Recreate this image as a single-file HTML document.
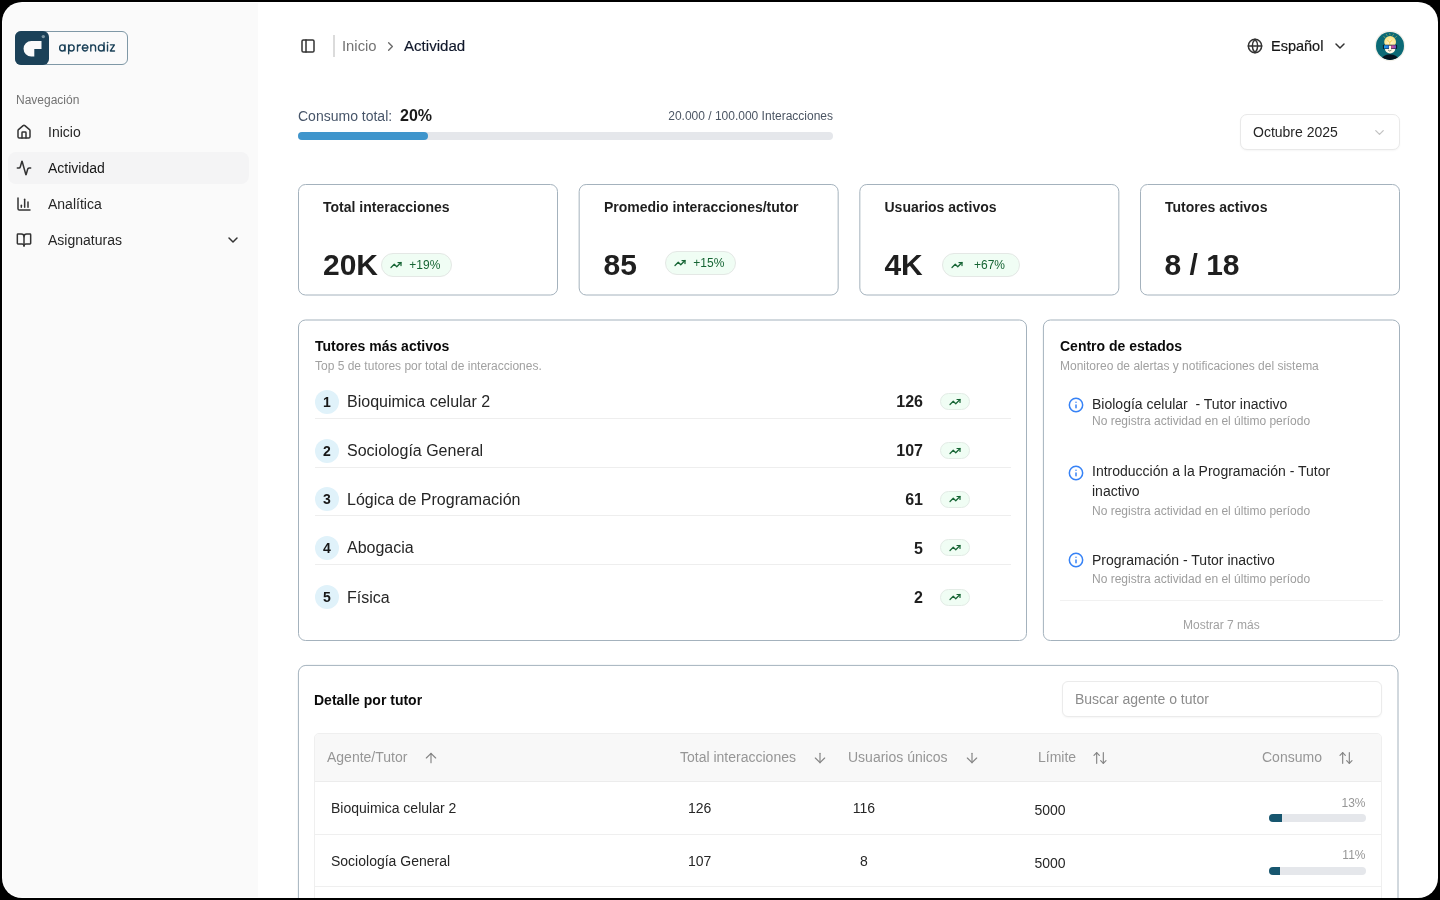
<!DOCTYPE html>
<html lang="es">
<head>
<meta charset="utf-8">
<title>Actividad</title>
<style>
*{box-sizing:border-box;margin:0;padding:0}
html,body{width:1440px;height:900px;overflow:hidden;background:#000}
body{font-family:"Liberation Sans",sans-serif;color:#171717;position:relative;-webkit-font-smoothing:antialiased}
.abs{position:absolute}
.frame{position:absolute;left:2px;top:2px;width:1436px;height:896px;border-radius:20px;background:#fff;overflow:hidden;will-change:transform}
/* all children of .frame positioned in page coords via .pg wrapper */
.pg{position:absolute;left:-2px;top:-2px;width:1440px;height:900px}
.sidebar{position:absolute;left:3px;top:3px;width:255px;height:894px;background:#fafafa;border-radius:19px 0 0 19px}
.t{position:absolute;white-space:nowrap;line-height:1}
svg{position:absolute;overflow:visible}
.ico{fill:none;stroke:#333;stroke-width:2.25;stroke-linecap:round;stroke-linejoin:round}
/* nav */
.nav{font-size:14px;color:#262626;left:48px}
/* cards */
.card{position:absolute;background:#fff;border:1px solid #a9b7c2;border-radius:7px;box-shadow:0 1px 2px rgba(0,0,0,.05)}
.kt{font-weight:700;font-size:14px;color:#1f1f1f}
.kv{font-weight:700;font-size:30px;color:#1f1f1f}
.badge{position:absolute;height:24px;border-radius:12px;background:#f0fdf4;border:1px solid #e4e8e5}
.badge .t{font-size:12px;color:#166534}
.g{fill:none;stroke:#166534;stroke-width:2.5;stroke-linecap:round;stroke-linejoin:round}

.pt{font-weight:700;font-size:14px;color:#0a0a0a}
.ps{font-size:12px;color:#a1a1a1}
.num{position:absolute;left:315px;width:24px;height:24px;border-radius:12px;background:#e0f2fa;font-weight:700;font-size:14px;color:#171717;text-align:center;line-height:24px}
.rn{font-size:16px;color:#262626;left:347px}
.rv{font-size:16px;font-weight:700;color:#1f1f1f;right:517px}
.div{position:absolute;left:315px;width:696px;height:1px;background:#eeeeee}
.sb svg{stroke-width:2.4}
.sb{position:absolute;left:940px;width:30px;height:17px;border-radius:9px;background:#f0fdf4;border:1px solid #e3ece6}
.al{font-size:14px;color:#262626;left:1092px}
.as{font-size:12px;color:#9d9d9d;left:1092px}
.inf{fill:none;stroke:#3682f6;stroke-width:2.25;stroke-linecap:round;stroke-linejoin:round}

.th{font-size:14px;color:#969696}
.td{font-size:14px;color:#262626}
.si{fill:none;stroke:#858585;stroke-width:1.75;stroke-linecap:round;stroke-linejoin:round}
.pc{font-size:12px;color:#969696;right:74.5px}
.bar{position:absolute;left:1269px;width:97px;height:8px;border-radius:4px;background:#e5e7eb;overflow:hidden}
.bar i{position:absolute;left:0;top:0;height:8px;background:#17566f}
.rd{position:absolute;left:315px;width:1066px;height:1px;background:#efefef}
</style>
</head>
<body>
<div class="frame"><div class="pg">

<!-- ============ SIDEBAR ============ -->
<div class="sidebar"></div>

<!-- logo -->
<div class="abs" style="left:15px;top:31px;width:113px;height:34px;border:1px solid #7f98a6;border-radius:6px;background:#fafafa"></div>
<div class="abs" style="left:15px;top:31px;width:34px;height:34px;border-radius:6px;background:#1b4158"></div>
<svg style="left:15px;top:31px" width="34" height="34" viewBox="0 0 34 34">
  <path d="M16.3 10 H26.5 V18 H19.3 V25.5 H16.3 A7.75 7.75 0 0 1 16.3 10 Z" fill="#fafafa"/>
  <circle cx="28.3" cy="5.6" r="1.7" fill="#7e97a4"/>
</svg>
<svg style="left:54px;top:34px" width="68" height="28" viewBox="54 34 68 28" fill="none" stroke="#1b4158" stroke-width="1.4" stroke-linecap="round" stroke-linejoin="round" aria-label="aprendiz">
  <ellipse cx="62.3" cy="47.93" rx="2.65" ry="3.05"/><path d="M64.95 44.87V50.98"/>
  <path d="M68.65 44.87V53.8"/><ellipse cx="71.4" cy="47.93" rx="2.75" ry="3.05"/>
  <path d="M77.5 44.87V50.98M77.5 47.7C77.5 45.8 78.7 44.9 80.4 45"/>
  <path d="M82.32 47.93H87.98A2.83 3.05 0 1 0 87.32 49.89"/>
  <path d="M90.8 50.98V44.87M90.8 47.5C90.8 45.7 92 44.87 93.2 44.87C94.6 44.87 95.55 45.8 95.55 47.4V50.98"/>
  <ellipse cx="101.21" cy="47.93" rx="2.82" ry="3.05"/><path d="M104.03 42.7V50.98"/>
  <path d="M107.5 45.05V50.98"/><circle cx="107.5" cy="42.55" r=".5" fill="#1b4158" stroke-width=".6"/>
  <path d="M110.4 44.87H114.4L110.4 50.98H114.5"/>
</svg>

<div class="t" style="left:16px;top:94px;font-size:12px;color:#737373">Navegación</div>

<div class="abs" style="left:8px;top:152px;width:241px;height:32px;border-radius:8px;background:#f4f4f5"></div>

<!-- nav icons -->
<svg class="ico" style="left:16px;top:124px" width="16" height="16" viewBox="0 0 24 24"><path d="M15 21v-8a1 1 0 0 0-1-1h-4a1 1 0 0 0-1 1v8"/><path d="M3 10a2 2 0 0 1 .709-1.528l7-5.999a2 2 0 0 1 2.582 0l7 5.999A2 2 0 0 1 21 10v9a2 2 0 0 1-2 2H5a2 2 0 0 1-2-2z"/></svg>
<svg class="ico" style="left:16px;top:160px" width="16" height="16" viewBox="0 0 24 24"><path d="M22 12h-2.48a2 2 0 0 0-1.93 1.46l-2.35 8.36a.25.25 0 0 1-.48 0L9.24 2.18a.25.25 0 0 0-.48 0l-2.35 8.36A2 2 0 0 1 4.49 12H2"/></svg>
<svg class="ico" style="left:16px;top:196px" width="16" height="16" viewBox="0 0 24 24"><path d="M3 3v16a2 2 0 0 0 2 2h16"/><path d="M18 17V9"/><path d="M13 17V5"/><path d="M8 17v-3"/></svg>
<svg class="ico" style="left:16px;top:232px" width="16" height="16" viewBox="0 0 24 24"><path d="M12 7v14"/><path d="M3 18a1 1 0 0 1-1-1V4a1 1 0 0 1 1-1h5a4 4 0 0 1 4 4 4 4 0 0 1 4-4h5a1 1 0 0 1 1 1v13a1 1 0 0 1-1 1h-6a3 3 0 0 0-3 3 3 3 0 0 0-3-3z"/></svg>
<svg class="ico" style="left:225px;top:232px" width="16" height="16" viewBox="0 0 24 24"><path d="m6 9 6 6 6-6"/></svg>

<div class="t nav" style="top:125px">Inicio</div>
<div class="t nav" style="top:161px;color:#171717">Actividad</div>
<div class="t nav" style="top:197px">Analítica</div>
<div class="t nav" style="top:233px">Asignaturas</div>

<!-- ============ HEADER ============ -->
<svg class="ico" style="left:300px;top:38px" width="16" height="16" viewBox="0 0 24 24"><rect width="18" height="18" x="3" y="3" rx="2"/><path d="M9 3v18"/></svg>
<div class="abs" style="left:333px;top:35px;width:2px;height:22px;background:#dbdbdb"></div>
<div class="t" style="left:342px;top:38.5px;font-size:14.8px;color:#737373">Inicio</div>
<svg class="ico" style="left:383px;top:38.7px;stroke:#6b6b6b;stroke-width:2.2" width="15" height="15" viewBox="0 0 24 24"><path d="m9 18 6-6-6-6"/></svg>
<div class="t" style="left:404px;top:38px;font-size:15.1px;color:#0f172a;-webkit-text-stroke:.15px #0f172a">Actividad</div>

<svg class="ico" style="left:1247px;top:38px" width="16" height="16" viewBox="0 0 24 24"><circle cx="12" cy="12" r="10"/><path d="M12 2a14.5 14.5 0 0 0 0 20 14.5 14.5 0 0 0 0-20"/><path d="M2 12h20"/></svg>
<div class="t" style="left:1271px;top:39px;font-size:14.5px;color:#171717;-webkit-text-stroke:.2px #171717">Español</div>
<svg class="ico" style="left:1332px;top:38px" width="16" height="16" viewBox="0 0 24 24"><path d="m6 9 6 6 6-6"/></svg>

<!-- avatar -->
<svg style="left:1374px;top:30px" width="32" height="32" viewBox="0 0 32 32">
  <defs>
    <clipPath id="av"><circle cx="16" cy="15.9" r="14"/></clipPath>
    <radialGradient id="bulb" cx="50%" cy="60%" r="60%"><stop offset="0" stop-color="#fff7d0"/><stop offset="1" stop-color="#fbe27e"/></radialGradient>
    <linearGradient id="lb" x1="0" x2="1"><stop offset="0" stop-color="#1aa3ea"/><stop offset="1" stop-color="#2c6fe0"/></linearGradient>
    <linearGradient id="lp" x1="0" x2="1"><stop offset="0" stop-color="#e4559a"/><stop offset="1" stop-color="#6f4fc4"/></linearGradient>
  </defs>
  <circle cx="16" cy="15.9" r="15.3" fill="#f3f1ea"/>
  <g clip-path="url(#av)">
    <rect width="32" height="32" fill="#0b6a76"/>
    <ellipse cx="16" cy="30.2" rx="8.6" ry="6" fill="#03141f"/>
    <rect x="10.9" y="12.5" width="10.4" height="11.1" rx="5.1" fill="#fdf9e6"/>
    <ellipse cx="16.1" cy="12" rx="5.9" ry="6" fill="url(#bulb)"/>
    <path d="M13.6 10.4 L15.8 12.3 L18 10.4 M15.8 12.3 V15" stroke="#f7cd4d" stroke-width=".95" fill="none" stroke-linecap="round" stroke-linejoin="round"/>
    <rect x="8.9" y="14.7" width="14.2" height="4.2" rx=".7" fill="#06202c"/>
    <rect x="14.9" y="15.6" width="2.2" height="3.6" fill="#fdf9e6"/>
    <rect x="10" y="15.2" width="4.8" height="3.2" rx=".5" fill="url(#lb)"/>
    <rect x="17.2" y="15.2" width="4.8" height="3.2" rx=".5" fill="url(#lp)"/>
    <path d="M14.3 20.3 Q15.8 22.2 17.3 20.3" stroke="#55564a" stroke-width=".7" fill="none" stroke-linecap="round"/>
    <path d="M9.8 6.4 L10.9 7.8 M12.2 4.2 L13.1 5.6 M15.7 3.5 L16 4.8 M19.6 4.2 L18.7 5.6 M22.7 6.2 L21.3 7.6" stroke="#c9bd55" stroke-width=".55" stroke-linecap="round"/>
  </g>
</svg>


<!-- ============ CONSUMO ============ -->
<div class="t" style="left:298px;top:109px;font-size:14px;color:#475569">Consumo total:</div>
<div class="t" style="left:400px;top:108px;font-size:16px;font-weight:700;color:#1a1a1a">20%</div>
<div class="t" style="right:607px;top:110px;font-size:12px;color:#4b5563">20.000 / 100.000 Interacciones</div>
<div class="abs" style="left:298px;top:132px;width:535px;height:8px;border-radius:4px;background:#e5e7eb"></div>
<div class="abs" style="left:298px;top:132px;width:130px;height:8px;border-radius:4px;background:#3f95cc"></div>

<!-- select -->
<div class="abs" style="left:1240px;top:114px;width:160px;height:36px;border:1px solid #e9e9e9;border-radius:7px;background:#fff;box-shadow:0 1px 2px rgba(0,0,0,.04)"></div>
<div class="t" style="left:1253px;top:125px;font-size:14px;color:#262626">Octubre 2025</div>
<svg class="ico" style="left:1372px;top:124.5px;stroke:#c2c2c2;stroke-width:2" width="15" height="15" viewBox="0 0 24 24"><path d="m6 9 6 6 6-6"/></svg>

<!-- ============ CARD FRAMES (svg for sub-pixel borders) ============ -->
<svg style="left:0;top:0" width="1440" height="900" viewBox="0 0 1440 900" fill="#fff" stroke="#a4b2bd" stroke-width="1">
  <rect x="298.5" y="184.5" width="259" height="110.5" rx="7"/>
  <rect x="579.17" y="184.5" width="259" height="110.5" rx="7"/>
  <rect x="859.83" y="184.5" width="259" height="110.5" rx="7"/>
  <rect x="1140.5" y="184.5" width="259" height="110.5" rx="7"/>
  <rect x="298.5" y="320" width="728" height="320.5" rx="7"/>
  <rect x="1043.4" y="320" width="356.1" height="320.5" rx="7"/>
  <rect x="298.4" y="665.4" width="1099.6" height="300" rx="7.5"/>
</svg>
<!-- ============ KPI CARDS ============ -->

<div class="t kt" style="left:323px;top:200px">Total interacciones</div>
<div class="t kt" style="left:604px;top:200px">Promedio interacciones/tutor</div>
<div class="t kt" style="left:884.5px;top:200px">Usuarios activos</div>
<div class="t kt" style="left:1165px;top:200px">Tutores activos</div>

<div class="t kv" style="left:323px;top:249.5px">20K</div>
<div class="t kv" style="left:603.6px;top:249.5px">85</div>
<div class="t kv" style="left:884.4px;top:249.5px">4K</div>
<div class="t kv" style="left:1164.5px;top:249.5px">8 / 18</div>

<div class="badge" style="left:381px;top:253px;width:71px"><svg class="g" style="left:8px;top:5px" width="12" height="12" viewBox="0 0 24 24"><path d="M16 7h6v6"/><path d="m22 7-8.5 8.5-5-5L2 17"/></svg><div class="t" style="left:27.3px;top:5px">+19%</div></div>
<div class="badge" style="left:665px;top:251px;width:71px"><svg class="g" style="left:8px;top:5px" width="12" height="12" viewBox="0 0 24 24"><path d="M16 7h6v6"/><path d="m22 7-8.5 8.5-5-5L2 17"/></svg><div class="t" style="left:27.3px;top:5px">+15%</div></div>
<div class="badge" style="left:942px;top:253px;width:78px"><svg class="g" style="left:8px;top:5px" width="12" height="12" viewBox="0 0 24 24"><path d="M16 7h6v6"/><path d="m22 7-8.5 8.5-5-5L2 17"/></svg><div class="t" style="left:31px;top:5px">+67%</div></div>


<!-- ============ TUTORES MAS ACTIVOS ============ -->
<div class="t pt" style="left:315px;top:339px">Tutores más activos</div>
<div class="t ps" style="left:315px;top:360px">Top 5 de tutores por total de interacciones.</div>
<div class="num" style="top:389.7px">1</div><div class="t rn" style="top:394.2px">Bioquimica celular 2</div><div class="t rv" style="top:394.3px">126</div><div class="sb" style="top:393.2px"><svg class="g" style="left:8px;top:1.5px" width="12" height="12" viewBox="0 0 24 24"><path d="M16 7h6v6"/><path d="m22 7-8.5 8.5-5-5L2 17"/></svg></div><div class="div" style="top:418px"></div>
<div class="num" style="top:438.6px">2</div><div class="t rn" style="top:443.1px">Sociología General</div><div class="t rv" style="top:443.2px">107</div><div class="sb" style="top:442.1px"><svg class="g" style="left:8px;top:1.5px" width="12" height="12" viewBox="0 0 24 24"><path d="M16 7h6v6"/><path d="m22 7-8.5 8.5-5-5L2 17"/></svg></div><div class="div" style="top:467px"></div>
<div class="num" style="top:487.2px">3</div><div class="t rn" style="top:491.7px">Lógica de Programación</div><div class="t rv" style="top:491.8px">61</div><div class="sb" style="top:490.7px"><svg class="g" style="left:8px;top:1.5px" width="12" height="12" viewBox="0 0 24 24"><path d="M16 7h6v6"/><path d="m22 7-8.5 8.5-5-5L2 17"/></svg></div><div class="div" style="top:515px"></div>
<div class="num" style="top:535.9px">4</div><div class="t rn" style="top:540.4px">Abogacia</div><div class="t rv" style="top:540.5px">5</div><div class="sb" style="top:539.4px"><svg class="g" style="left:8px;top:1.5px" width="12" height="12" viewBox="0 0 24 24"><path d="M16 7h6v6"/><path d="m22 7-8.5 8.5-5-5L2 17"/></svg></div><div class="div" style="top:564px"></div>
<div class="num" style="top:585.0px">5</div><div class="t rn" style="top:589.5px">Física</div><div class="t rv" style="top:589.6px">2</div><div class="sb" style="top:588.5px"><svg class="g" style="left:8px;top:1.5px" width="12" height="12" viewBox="0 0 24 24"><path d="M16 7h6v6"/><path d="m22 7-8.5 8.5-5-5L2 17"/></svg></div>

<!-- ============ CENTRO DE ESTADOS ============ -->
<div class="t pt" style="left:1060px;top:339px">Centro de estados</div>
<div class="t ps" style="left:1060px;top:360px">Monitoreo de alertas y notificaciones del sistema</div>

<svg class="inf" style="left:1068px;top:397px" width="16" height="16" viewBox="0 0 24 24"><circle cx="12" cy="12" r="10"/><path d="M12 16v-4"/><path d="M12 8h.01"/></svg>
<div class="t al" style="top:397px">Biología celular&nbsp; - Tutor inactivo</div>
<div class="t as" style="top:415px">No registra actividad en el último período</div>

<svg class="inf" style="left:1068px;top:465px" width="16" height="16" viewBox="0 0 24 24"><circle cx="12" cy="12" r="10"/><path d="M12 16v-4"/><path d="M12 8h.01"/></svg>
<div class="t al" style="top:464px">Introducción a la Programación - Tutor</div>
<div class="t al" style="top:484px">inactivo</div>
<div class="t as" style="top:505px">No registra actividad en el último período</div>

<svg class="inf" style="left:1068px;top:552px" width="16" height="16" viewBox="0 0 24 24"><circle cx="12" cy="12" r="10"/><path d="M12 16v-4"/><path d="M12 8h.01"/></svg>
<div class="t al" style="top:553px">Programación - Tutor inactivo</div>
<div class="t as" style="top:573px">No registra actividad en el último período</div>

<div class="abs" style="left:1060px;top:600px;width:323px;height:1px;background:#f1f1f1"></div>
<div class="t" style="left:1183px;top:618.7px;font-size:12px;color:#a1a1a1">Mostrar 7 más</div>


<!-- ============ DETALLE POR TUTOR ============ -->
<div class="t pt" style="left:314px;top:692.5px">Detalle por tutor</div>
<div class="abs" style="left:1062px;top:681px;width:320px;height:36px;border:1px solid #ebebeb;border-radius:6px;background:#fff;box-shadow:0 1px 2px rgba(0,0,0,.04)"></div>
<div class="t" style="left:1075px;top:692px;font-size:14px;color:#8c8c8c">Buscar agente o tutor</div>

<div class="abs" style="left:314px;top:733px;width:1068px;height:220px;border:1px solid #efefef;border-radius:5px;background:#fff;overflow:hidden"><div class="abs" style="left:0;top:0;width:1069px;height:48px;background:#f8f8f8;border-bottom:1px solid #ececec"></div></div>

<div class="t th" style="left:327px;top:750px">Agente/Tutor</div>
<svg class="si" style="left:423px;top:749.5px" width="16" height="16" viewBox="0 0 24 24"><path d="m5 12 7-7 7 7"/><path d="M12 19V5"/></svg>
<div class="t th" style="left:680px;top:750px">Total interacciones</div>
<svg class="si" style="left:812px;top:749.5px" width="16" height="16" viewBox="0 0 24 24"><path d="M12 5v14"/><path d="m19 12-7 7-7-7"/></svg>
<div class="t th" style="left:848px;top:750px">Usuarios únicos</div>
<svg class="si" style="left:963.7px;top:749.5px" width="16" height="16" viewBox="0 0 24 24"><path d="M12 5v14"/><path d="m19 12-7 7-7-7"/></svg>
<div class="t th" style="left:1038px;top:750px">Límite</div>
<svg class="si" style="left:1092px;top:749.5px" width="16" height="16" viewBox="0 0 24 24"><path d="m21 16-4 4-4-4"/><path d="M17 20V4"/><path d="m3 8 4-4 4 4"/><path d="M7 4v16"/></svg>
<div class="t th" style="left:1262px;top:750px">Consumo</div>
<svg class="si" style="left:1337.6px;top:749.5px" width="16" height="16" viewBox="0 0 24 24"><path d="m21 16-4 4-4-4"/><path d="M17 20V4"/><path d="m3 8 4-4 4 4"/><path d="M7 4v16"/></svg>

<div class="t td" style="left:331px;top:801px">Bioquimica celular 2</div>
<div class="t td" style="left:688px;top:801px">126</div>
<div class="t td" style="left:834px;width:60px;text-align:center;top:801px">116</div>
<div class="t td" style="left:1034.5px;top:803px">5000</div>
<div class="t pc" style="top:796.5px">13%</div>
<div class="bar" style="top:814px"><i style="width:13px"></i></div>
<div class="rd" style="top:834px"></div>

<div class="t td" style="left:331px;top:853.5px">Sociología General</div>
<div class="t td" style="left:688px;top:853.5px">107</div>
<div class="t td" style="left:834px;width:60px;text-align:center;top:853.5px">8</div>
<div class="t td" style="left:1034.5px;top:856px">5000</div>
<div class="t pc" style="top:849px">11%</div>
<div class="bar" style="top:867px"><i style="width:11px"></i></div>
<div class="rd" style="top:886px"></div>




</div></div>
</body>
</html>
